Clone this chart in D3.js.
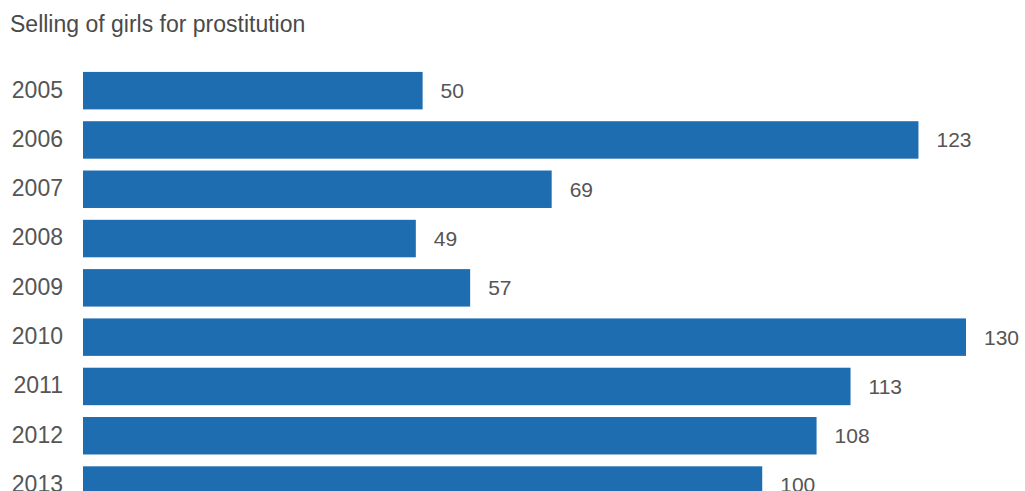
<!DOCTYPE html>
<meta charset="utf-8">
<style>
body { margin: 0; background: #fff; }
text { font-family: "Liberation Sans", Arial, sans-serif; fill: #555; }
.axis path, .axis line { display: none; }
</style>
<body>
<script src="https://d3js.org/d3.v7.min.js"></script>
<script>

// data
var years = ["2005", "2006", "2007", "2008", "2009", "2010", "2011", "2012", "2013"];
var counts = [50, 123, 69, 49, 57, 130, 113, 108, 100];
var title = "Selling of girls for prostitution";

var width = 1025, height = 491;

var svg = d3.select("body").append("svg")
    .attr("width", width)
    .attr("height", height);

// scales
var x = d3.scaleLinear().domain([0, 130]).range([83, 966]);
var y = d3.scaleBand()
    .domain(years)
    .range([66, 66 + years.length * 49.3])
    .paddingInner(0.24)
    .paddingOuter(0.12);

// title
svg.append("text")
    .attr("x", 10)
    .attr("y", 32)
    .style("font-size", "23px")
    .style("fill", "#4a4a4a")
    .text(title);

// bars
svg.selectAll(".bar")
    .data(years)
  .enter().append("rect")
    .attr("class", "bar")
    .attr("x", x(0))
    .attr("y", function(d) { return y(d); })
    .attr("width", function(d, i) { return x(counts[i]) - x(0); })
    .attr("height", y.bandwidth())
    .style("fill", "#1f6db1");

// value labels
svg.selectAll(".val")
    .data(years)
  .enter().append("text")
    .attr("class", "val")
    .attr("x", function(d, i) { return x(counts[i]) + 18; })
    .attr("y", function(d) { return y(d) + y.bandwidth() / 2; })
    .attr("dy", ".35em")
    .style("font-size", "21px")
    .text(function(d, i) { return counts[i]; });

// year axis
svg.append("g")
    .attr("class", "axis")
    .attr("transform", "translate(" + x(0) + ",0)")
    .call(d3.axisLeft(y).tickSize(0).tickPadding(20))
    .selectAll("text")
    .attr("dy", ".3em")
    .style("font-size", "23px")
    .style("font-family", "Liberation Sans, Arial, sans-serif")
    .style("fill", "#555");

</script>
</body>
